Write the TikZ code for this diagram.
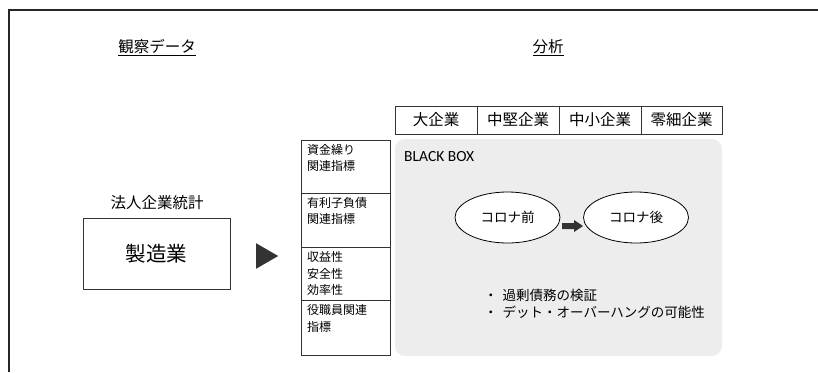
\documentclass[tikz,border=0pt]{standalone}
\usepackage{fontspec}
\setmainfont{Noto Sans CJK JP}
\newfontfamily\latinfont{Carlito}
\usetikzlibrary{shapes.geometric}
\definecolor{boxgray}{HTML}{EDEDED}
\definecolor{darkfill}{HTML}{333333}
\tikzset{
  frameline/.style={line width=1.3pt, draw=black!85},
  thinbox/.style={draw=black!80, line width=0.8pt},
  celltext/.style={anchor=north west, inner sep=0pt, align=left, font=\fontsize{12}{16.5}\selectfont},
  headcell/.style={thinbox, minimum height=28pt, inner sep=0pt, font=\fontsize{15.5}{18}\selectfont},
  heading/.style={font=\fontsize{15.5}{18}\selectfont},
  oval/.style={ellipse, draw=black, line width=0.8pt, fill=white, minimum width=105pt, minimum height=51pt, inner sep=0pt, font=\fontsize{13.5}{16}\selectfont},
}
\begin{document}
\begin{tikzpicture}[x=1pt,y=-1pt]
\useasboundingbox (0,0) rectangle (818,372);
% frame
\draw[frameline] (818,10) -- (9,10) -- (9,372);
% headings
\node[heading] (obs) at (157,48) {\underline{観察データ}};
\node[heading] (ana) at (548,48) {\underline{分析}};
% left side
\node[heading] (src) at (157,203) {法人企業統計};
\node[thinbox, minimum width=147pt, minimum height=71pt, inner sep=0pt, font=\fontsize{20.5}{24}\selectfont] (mfg) at (156.5,253.5) {製造業};
\node[isosceles triangle, isosceles triangle apex angle=60, fill=darkfill, minimum height=22pt, inner sep=0pt, anchor=west] (tri) at (256,256) {};
% index column
\draw[thinbox] (301,140) rectangle (390,355);
\draw[thinbox] (301,193) -- (390,193);
\draw[thinbox] (301,247) -- (390,247);
\draw[thinbox] (301,300) -- (390,300);
\node[celltext] (c1) at (307,144) {資金繰り\\関連指標};
\node[celltext] (c2) at (307,197) {有利子負債\\関連指標};
\node[celltext] (c3) at (307,251.5) {収益性\\安全性\\効率性};
\node[celltext] (c4) at (307,304.5) {役職員関連\\指標};
% gray box
\fill[boxgray, rounded corners=10pt] (395,139) rectangle (722,356);
\node[anchor=west, inner sep=0pt, font=\latinfont\fontsize{15.5}{18}\selectfont] (bb) at (404,157) {BLACK BOX};
% header cells
\node[headcell, minimum width=82pt] (h1) at (436,120) {大企業};
\node[headcell, minimum width=82pt] (h2) at (518,120) {中堅企業};
\node[headcell, minimum width=82pt] (h3) at (600,120) {中小企業};
\node[headcell, minimum width=81pt] (h4) at (681.5,120) {零細企業};
% ovals
\node[oval] (pre) at (507.5,217.5) {コロナ前};
\node[oval] (post) at (636,217.5) {コロナ後};
\coordinate (arr) at (562,220);
\fill[darkfill] ([yshift=-3pt]arr) -- ++(12,0) -- ++(0,-3) -- ++(9,6) -- ++(-9,6) -- ++(0,-3) -- ++(-12,0) -- cycle;
% bullets
\node[anchor=north west, inner sep=0pt, align=left, font=\fontsize{13.5}{17}\selectfont] (bul) at (484,289)
{・\hspace{5pt}過剰債務の検証\\・\hspace{5pt}デット・オーバーハングの可能性};
\end{tikzpicture}
\end{document}
